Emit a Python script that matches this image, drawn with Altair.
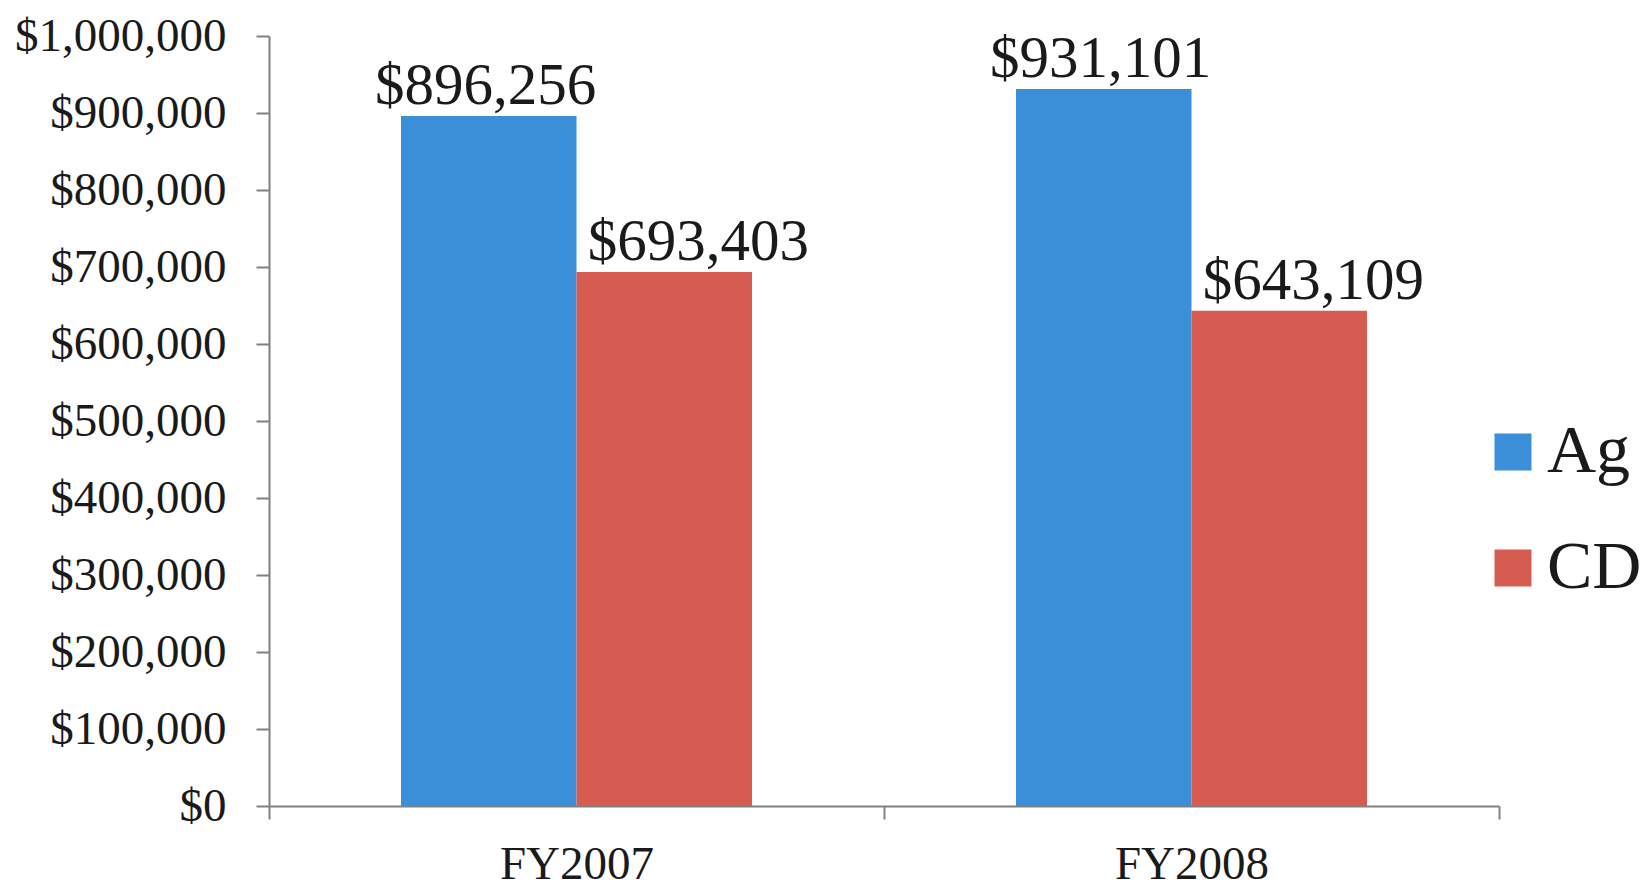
import altair as alt
import pandas as pd

years = ["FY2007", "FY2008"]
series = ["Ag", "CD"]
ag_values = [896256, 931101]
cd_values = [693403, 643109]
y_ticks = [0, 100000, 200000, 300000, 400000, 500000, 600000, 700000, 800000, 900000, 1000000]
colors = ["#3B8ED8", "#D65B51"]

rows = []
for i, yr in enumerate(years):
    rows.append({"year": yr, "series": "Ag", "value": ag_values[i]})
    rows.append({"year": yr, "series": "CD", "value": cd_values[i]})
df = pd.DataFrame(rows)

FONT = "Liberation Serif"

x_enc = alt.X(
    "year:N",
    sort=years,
    scale=alt.Scale(paddingInner=0, paddingOuter=0),
    axis=alt.Axis(
        title=None,
        labelAngle=0,
        labelFont=FONT,
        labelFontSize=47,
        labelColor="#1a1a1a",
        labelBaseline="alphabetic",
        labelPadding=59,
        tickBand="extent",
        tickSize=13,
        tickColor="#808080",
        tickWidth=2,
        domainColor="#808080",
        domainWidth=2,
        grid=False,
    ),
)
xo_enc = alt.XOffset("series:N", sort=series, scale=alt.Scale(paddingInner=0, paddingOuter=0.752))
y_enc = alt.Y(
    "value:Q",
    scale=alt.Scale(domain=[0, 1000000], nice=False),
    axis=alt.Axis(
        title=None,
        values=y_ticks,
        format="$,.0f",
        labelFont=FONT,
        labelFontSize=47,
        labelColor="#1a1a1a",
        labelPadding=30,
        labelLimit=400,
        tickSize=13,
        tickColor="#808080",
        tickWidth=2,
        domainColor="#808080",
        domainWidth=2,
        grid=False,
    ),
)

bars = alt.Chart(df).mark_bar().encode(
    x=x_enc,
    xOffset=xo_enc,
    y=y_enc,
    color=alt.Color(
        "series:N",
        sort=series,
        scale=alt.Scale(domain=series, range=colors),
        legend=alt.Legend(
            title=None,
            orient="none",
            legendX=1210,
            legendY=382,
            symbolType="square",
            symbolSize=1369,
            symbolStrokeWidth=0,
            labelFont=FONT,
            labelFontSize=68,
            labelColor="#1a1a1a",
            labelOffset=0,
            rowPadding=48,
            labelLimit=400,
        ),
    ),
)

label_base = alt.Chart(df)
labels_ag = label_base.transform_filter(alt.datum.series == "Ag").mark_text(
    font=FONT, fontSize=59, color="#1a1a1a", baseline="alphabetic", dy=-12, dx=-3
).encode(
    x=alt.X("year:N", sort=years),
    xOffset=alt.XOffset("series:N", sort=series),
    y=alt.Y("value:Q"),
    text=alt.Text("value:Q", format="$,.0f"),
)
labels_cd = label_base.transform_filter(alt.datum.series == "CD").mark_text(
    font=FONT, fontSize=59, color="#1a1a1a", baseline="alphabetic", dy=-12, dx=34
).encode(
    x=alt.X("year:N", sort=years),
    xOffset=alt.XOffset("series:N", sort=series),
    y=alt.Y("value:Q"),
    text=alt.Text("value:Q", format="$,.0f"),
)

chart = (
    alt.layer(bars, labels_ag, labels_cd)
    .properties(
        width=1230,
        height=770,
        autosize=alt.AutoSizeParams(type="none"),
        padding={"left": 261, "top": 28, "right": 141, "bottom": 81},
        background="white",
    )
    .configure_view(strokeWidth=0)
)

chart.save("out.html", embed_options={"renderer": "svg", "actions": False})
